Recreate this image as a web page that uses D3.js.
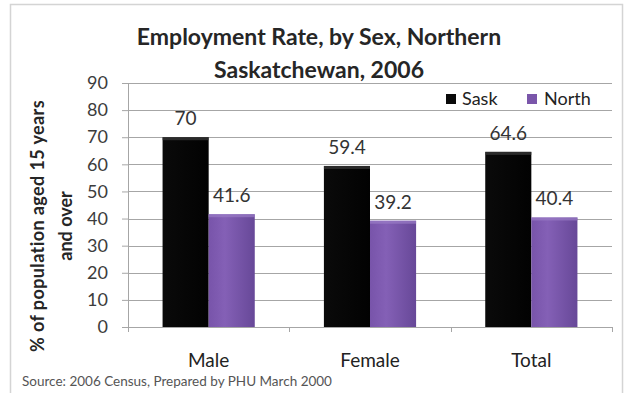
<!DOCTYPE html>
<html>
<head>
<meta charset="utf-8">
<script src="https://cdn.jsdelivr.net/npm/d3@7"></script>
<style>
  html, body { margin: 0; padding: 0; background: #fff; }
  svg { display: block; font-family: Lato, "Open Sans", sans-serif; }
</style>
</head>
<body>
<svg id="chart" width="629" height="393"></svg>
<script>
// Employment rate by sex, Saskatchewan vs. the North, 2006 Census
const categories = ["Male", "Female", "Total"];
const seriesNames = ["Sask", "North"];
const saskValues = [70, 59.4, 64.6];
const northValues = [41.6, 39.2, 40.4];
const yTicks = [0, 10, 20, 30, 40, 50, 60, 70, 80, 90];
const titleLines = ["Employment Rate, by Sex, Northern", "Saskatchewan, 2006"];
const yTitleLines = ["% of population aged 15 years", "and over"];
const sourceText = "Source: 2006 Census, Prepared by PHU March 2000";

const rows = categories.map((c, i) => ({ category: c, Sask: saskValues[i], North: northValues[i] }));

const svg = d3.select("#chart");
const plot = { left: 128, right: 612, top: 83, bottom: 327 };

// gradients for the bars
const defs = svg.append("defs");
const gN = defs.append("linearGradient").attr("id", "gNorth").attr("x1", 0).attr("x2", 1).attr("y1", 0).attr("y2", 0);
gN.append("stop").attr("offset", "0%").attr("stop-color", "#7854aa");
gN.append("stop").attr("offset", "35%").attr("stop-color", "#8460b6");
gN.append("stop").attr("offset", "100%").attr("stop-color", "#674898");
const gS = defs.append("linearGradient").attr("id", "gSask").attr("x1", 0).attr("x2", 1).attr("y1", 0).attr("y2", 0);
gS.append("stop").attr("offset", "0%").attr("stop-color", "#0a0a0a");
gS.append("stop").attr("offset", "100%").attr("stop-color", "#020202");

const fills = { Sask: "url(#gSask)", North: "url(#gNorth)" };
const topEdge = { Sask: "#3a3a3a", North: "#9a7cc6" };
const legendFill = { Sask: "#0a0a0a", North: "#7a56aa" };

// outer frame
svg.append("rect").attr("x", 10.5).attr("y", 4.5).attr("width", 612).attr("height", 395)
  .attr("fill", "none").attr("stroke", "#d4d4d4").attr("stroke-width", 1.5);

const y = d3.scaleLinear().domain([0, 90]).range([plot.bottom, plot.top]);
const x0 = d3.scaleBand().domain(categories).range([plot.left, plot.right]).paddingInner(0).paddingOuter(0);
const x1 = d3.scaleBand().domain(seriesNames).range([0, x0.bandwidth()]).paddingInner(0).paddingOuter(0.75);

// gridlines
svg.append("g").selectAll("line").data(yTicks.filter(t => t > 0)).join("line")
  .attr("x1", plot.left).attr("x2", plot.right)
  .attr("y1", d => Math.round(y(d)) + 0.5).attr("y2", d => Math.round(y(d)) + 0.5)
  .attr("stroke", "#a6a6a6").attr("stroke-width", 1);

// y axis
const yAxis = svg.append("g").attr("transform", `translate(${plot.left},0)`)
  .call(d3.axisLeft(y).tickValues(yTicks).tickSize(6).tickPadding(14).tickSizeOuter(0));
yAxis.select(".domain").attr("stroke", "#a6a6a6");
yAxis.selectAll(".tick line").attr("stroke", "#a6a6a6");
yAxis.selectAll(".tick text").attr("fill", "#3c3c3c").style("font-size", "18px").style("font-family", "Lato, sans-serif");

// bars
const groups = svg.append("g").selectAll("g").data(rows).join("g")
  .attr("transform", d => `translate(${x0(d.category)},0)`);
groups.selectAll("rect.bar").data(d => seriesNames.map(k => ({ key: k, value: d[k] }))).join("rect")
  .attr("class", "bar")
  .attr("x", d => x1(d.key)).attr("width", x1.bandwidth())
  .attr("y", d => y(d.value)).attr("height", d => y(0) - y(d.value))
  .attr("fill", d => fills[d.key]);
groups.selectAll("rect.edge").data(d => seriesNames.map(k => ({ key: k, value: d[k] }))).join("rect")
  .attr("class", "edge")
  .attr("x", d => x1(d.key)).attr("width", x1.bandwidth())
  .attr("y", d => y(d.value)).attr("height", 3)
  .attr("fill", d => topEdge[d.key]).attr("opacity", 0.7);
groups.selectAll("text.val").data(d => seriesNames.map(k => ({ key: k, value: d[k] }))).join("text")
  .attr("class", "val")
  .attr("x", d => x1(d.key) + x1.bandwidth() / 2)
  .attr("y", d => y(d.value) - 12)
  .attr("text-anchor", "middle")
  .attr("fill", "#333")
  .style("font-size", "19px")
  .text(d => d.value);

// x axis
const xAxis = svg.append("g").attr("transform", `translate(0,${plot.bottom})`)
  .call(d3.axisBottom(x0).tickSize(0).tickSizeOuter(0).tickPadding(27));
xAxis.select(".domain").attr("stroke", "#a6a6a6");
xAxis.selectAll(".tick text").attr("fill", "#222").style("font-size", "19px").style("font-family", "Lato, sans-serif");
// category separators
svg.append("g").selectAll("line").data([plot.left, ...categories.map(c => x0(c) + x0.bandwidth())]).join("line")
  .attr("x1", d => Math.round(d) + 0.5).attr("x2", d => Math.round(d) + 0.5)
  .attr("y1", plot.bottom).attr("y2", plot.bottom + 5)
  .attr("stroke", "#a6a6a6");

// title
svg.append("g").selectAll("text").data(titleLines).join("text")
  .attr("x", 319).attr("y", (d, i) => 45 + i * 33)
  .attr("text-anchor", "middle")
  .attr("fill", "#262626")
  .style("font-size", "23px").style("font-weight", "bold")
  .text(d => d);

// y axis title
svg.append("g").selectAll("text").data(yTitleLines).join("text")
  .attr("transform", (d, i) => `translate(${i === 0 ? 44 : 72},226) rotate(-90)`)
  .attr("text-anchor", "middle")
  .attr("fill", "#262626")
  .style("font-size", "18px").style("font-weight", "bold")
  .style("letter-spacing", (d, i) => i === 0 ? "0.4px" : "0px")
  .text(d => d);

// legend
const legendPos = [{ sx: 446, tx: 462 }, { sx: 527, tx: 544 }];
const legend = svg.append("g").selectAll("g").data(seriesNames).join("g");
legend.append("rect")
  .attr("x", (d, i) => legendPos[i].sx).attr("y", 94).attr("width", 10).attr("height", 10)
  .attr("fill", d => legendFill[d]);
legend.append("text")
  .attr("x", (d, i) => legendPos[i].tx).attr("y", 105)
  .attr("fill", "#222").style("font-size", "18px")
  .text(d => d);

// source note
svg.append("text").attr("x", 22).attr("y", 386)
  .attr("fill", "#555").style("font-size", "13.5px")
  .text(sourceText);
</script>
</body>
</html>
